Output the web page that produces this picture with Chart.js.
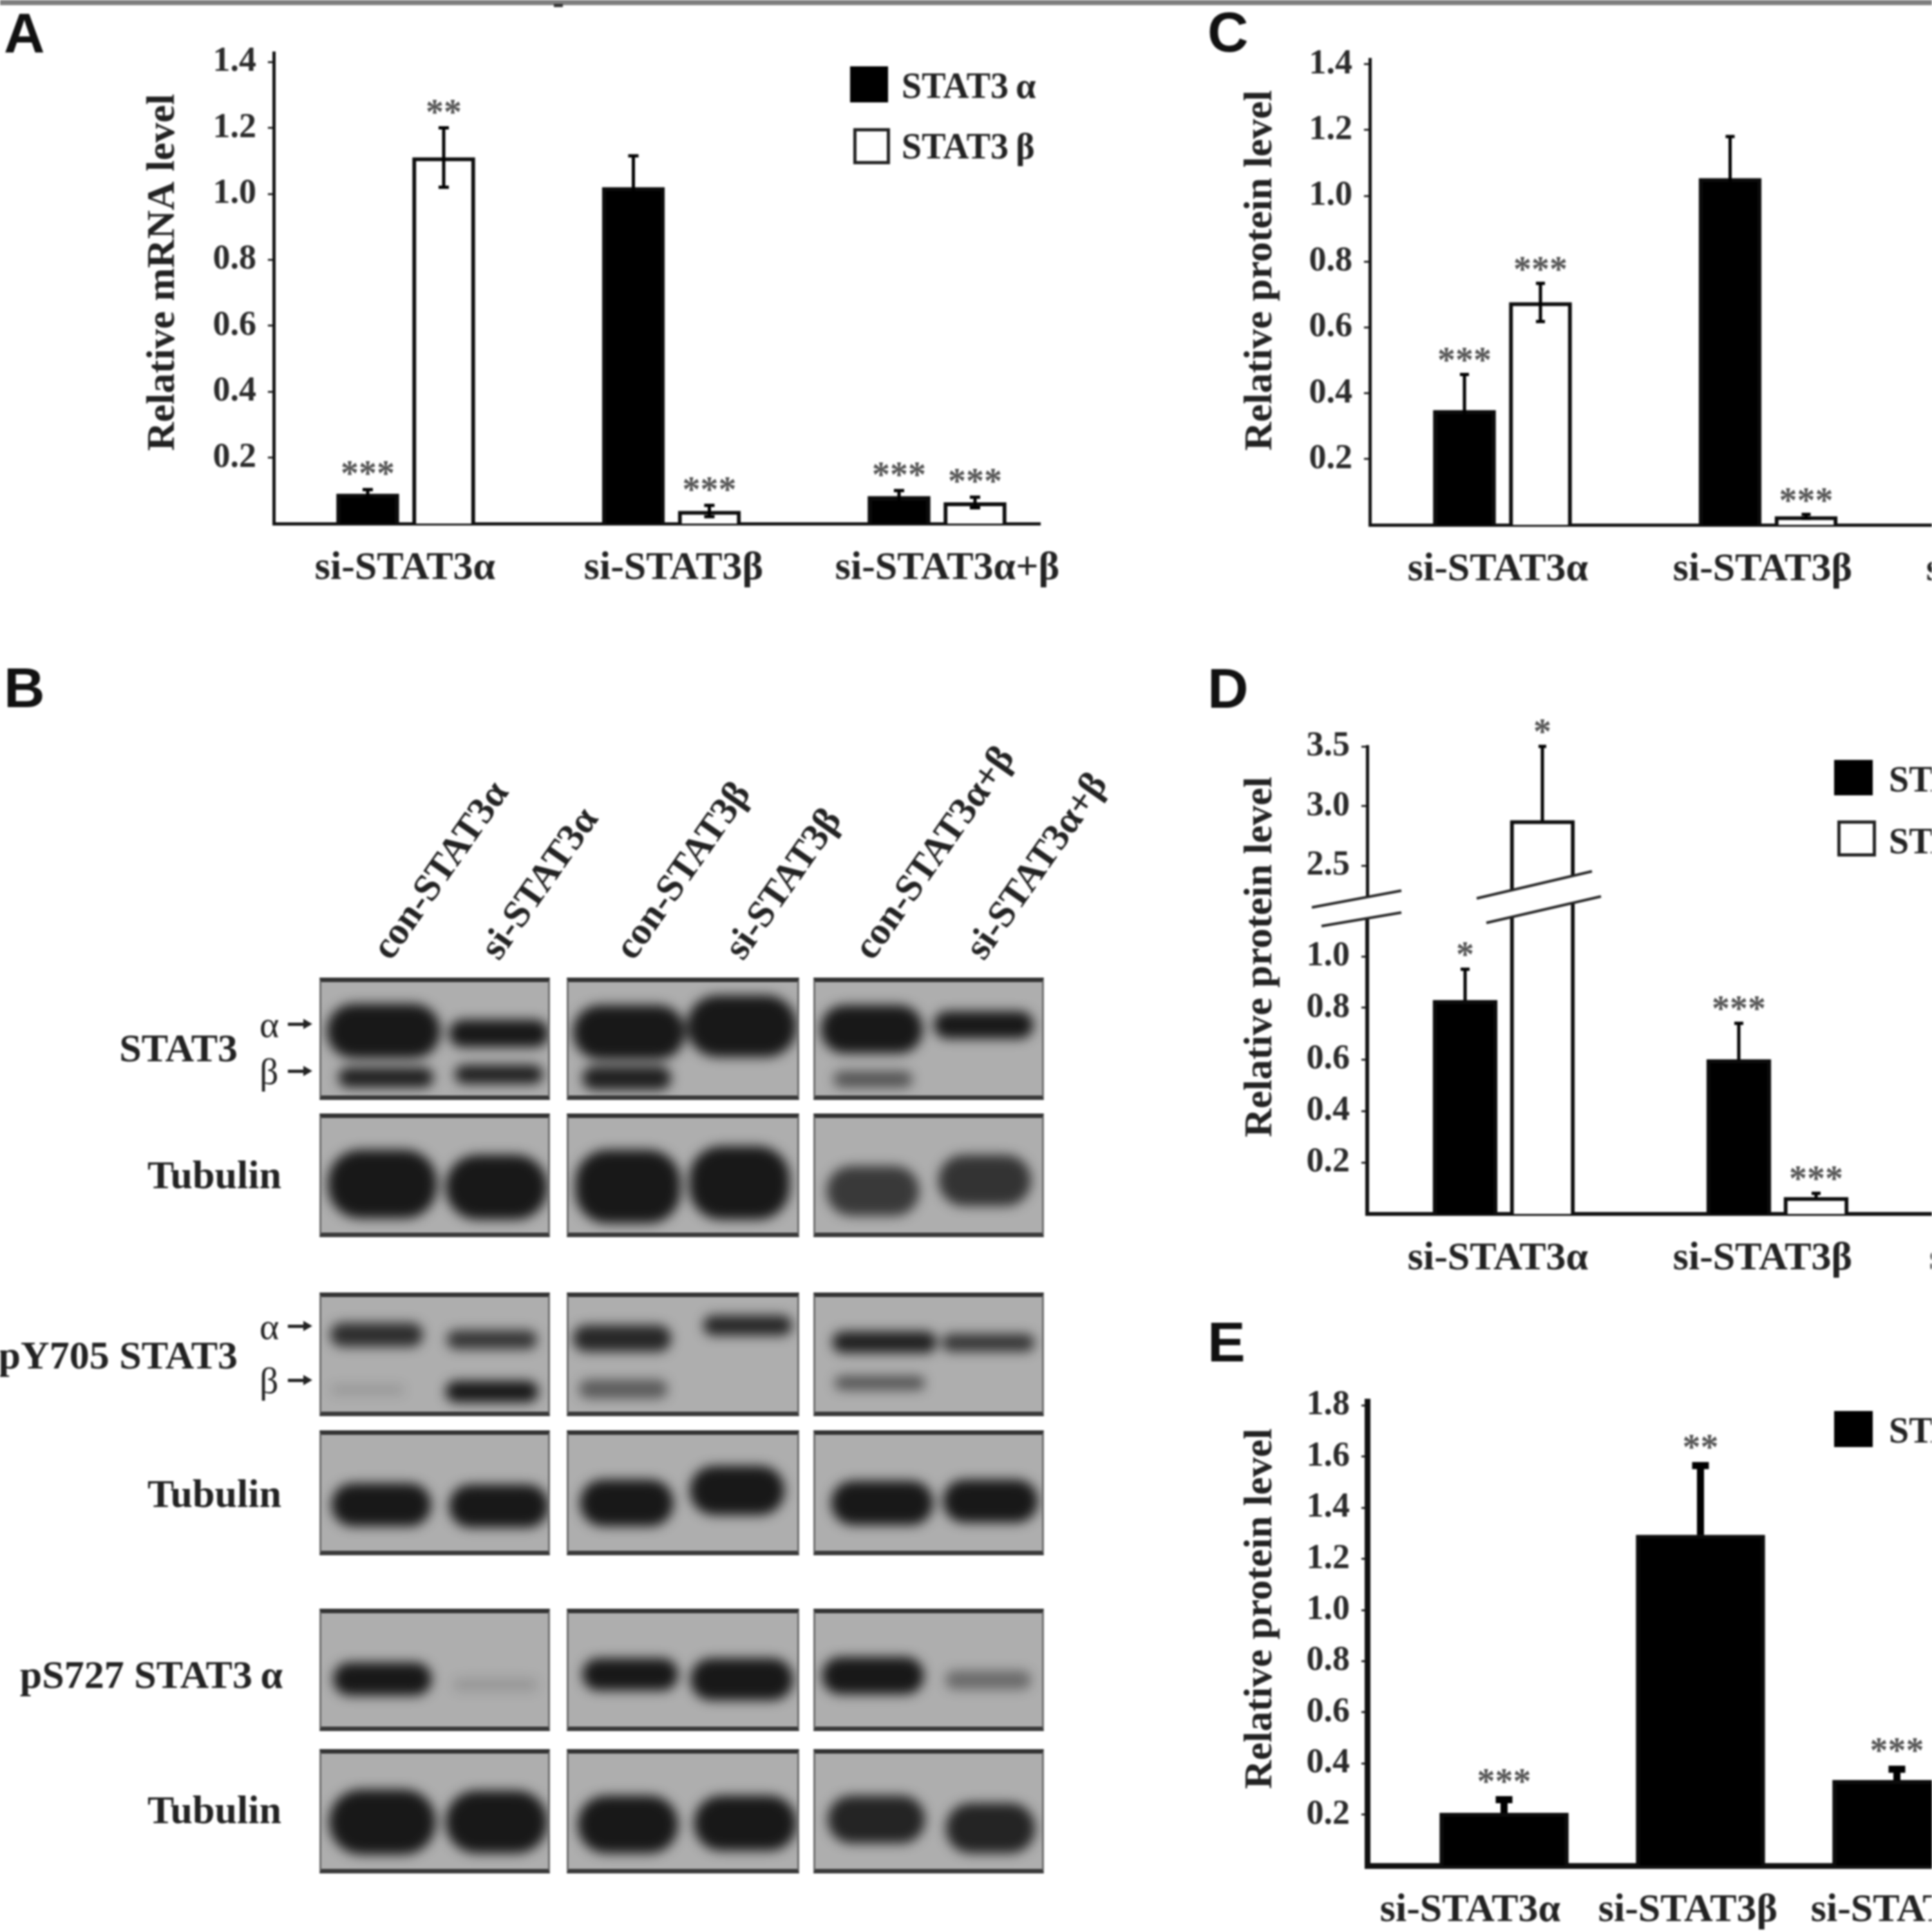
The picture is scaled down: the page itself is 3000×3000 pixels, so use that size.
<!DOCTYPE html>
<html>
<head>
<meta charset="utf-8">
<script src="https://cdn.jsdelivr.net/npm/chart.js@4"></script>
<style>
  html, body { margin: 0; background: #fff; }
  #page { position: relative; width: 3000px; height: 3000px; overflow: hidden; background: #fff; filter: blur(1.8px); }
  #page canvas { position: absolute; }
  .txt { position: absolute; white-space: nowrap; font-family: "Liberation Serif", serif; font-weight: bold; color: #222; line-height: 1; }
  .letter { position: absolute; font-family: "Liberation Sans", sans-serif; font-weight: bold; font-size: 88px; line-height: 1; color: #111; }
  .lane { position: absolute; white-space: nowrap; font-family: "Liberation Serif", serif; font-weight: bold; font-size: 60px; line-height: 1; color: #222; transform-origin: 0 100%; transform: rotate(-55deg); }
  .swatch { position: absolute; box-sizing: border-box; }
  .blot { position: absolute; box-sizing: border-box; overflow: hidden; background: #aeaeae; border: 3px solid #6a6a6a; border-top: 7px solid #333; border-bottom: 7px solid #3a3a3a; }
  .blot canvas { filter: blur(9px); left: 0; top: 0; }
  .arrow { position: absolute; height: 5px; background: #222; }
</style>
</head>
<body>
<div id="page"></div>
<script>
// Bar panel data
const groupsLong = ["si-STAT3α", "si-STAT3β", "si-STAT3α+β"];
const seriesNames = ["STAT3\u2009α", "STAT3\u2009β"];

const aAlpha = [0.09, 1.02, 0.083];
const aAlphaErr = [0.013, 0.095, 0.017];
const aAlphaStars = ["***", "", "***"];
const aBeta = [1.11, 0.038, 0.064];
const aBetaErr = [0.09, 0.017, 0.016];
const aBetaStars = ["**", "***", "***"];

const cAlpha = [0.348, 1.053];
const cAlphaErr = [0.109, 0.127];
const cAlphaStars = ["***", ""];
const cBeta = [0.676, 0.026];
const cBetaErr = [0.058, 0.006];
const cBetaStars = ["***", "***"];

const dAlpha = [0.83, 0.6];
const dAlphaErr = [0.12, 0.14];
const dAlphaStars = ["*", "***"];
const dBeta = [2.88, 0.065];
const dBetaErr = [0.62, 0.015];
const dBetaStars = ["*", "***"];

const eAlpha = [0.206, 1.293, 0.334];
const eAlphaErr = [0.052, 0.272, 0.043];
const eAlphaStars = ["***", "**", "***"];

const ticksSeven = [0.2, 0.4, 0.6, 0.8, 1.0, 1.2, 1.4];
const ticksLowerD = [0.2, 0.4, 0.6, 0.8, 1.0];
const ticksUpperD = [2.5, 3.0, 3.5];
const ticksE = [0.2, 0.4, 0.6, 0.8, 1.0, 1.2, 1.4, 1.6, 1.8];

// Western blot bands: [lane centre, lane width, top, bottom, darkness], as fractions of one blot
const blotStat3 = [
  [[0.27, 0.49, 0.18, 0.62, 1], [0.77, 0.43, 0.31, 0.53, 1], [0.28, 0.41, 0.7, 0.86, 0.95], [0.77, 0.38, 0.68, 0.83, 0.95]],
  [[0.26, 0.48, 0.19, 0.63, 1], [0.745, 0.47, 0.11, 0.61, 1], [0.25, 0.38, 0.69, 0.88, 0.95]],
  [[0.245, 0.44, 0.19, 0.58, 1], [0.73, 0.43, 0.24, 0.46, 1], [0.25, 0.34, 0.73, 0.86, 0.6]],
];
const blotTubulin1 = [
  [[0.265, 0.47, 0.26, 0.81, 1], [0.76, 0.44, 0.3, 0.82, 1]],
  [[0.255, 0.45, 0.26, 0.85, 1], [0.735, 0.43, 0.23, 0.82, 1]],
  [[0.25, 0.4, 0.39, 0.79, 0.78], [0.735, 0.4, 0.3, 0.71, 0.82]],
];
const blotPY705 = [
  [[0.24, 0.4, 0.21, 0.4, 0.85], [0.74, 0.39, 0.27, 0.42, 0.8], [0.74, 0.4, 0.68, 0.85, 1], [0.2, 0.32, 0.71, 0.79, 0.15]],
  [[0.23, 0.42, 0.23, 0.44, 0.9], [0.77, 0.38, 0.15, 0.31, 0.9], [0.235, 0.38, 0.67, 0.82, 0.55]],
  [[0.3, 0.45, 0.28, 0.45, 0.95], [0.75, 0.4, 0.3, 0.44, 0.8], [0.28, 0.39, 0.64, 0.75, 0.6]],
];
const blotTubulin2 = [
  [[0.26, 0.43, 0.39, 0.73, 1], [0.77, 0.43, 0.4, 0.74, 1]],
  [[0.25, 0.4, 0.36, 0.73, 1], [0.725, 0.405, 0.25, 0.64, 1]],
  [[0.29, 0.44, 0.37, 0.72, 1], [0.76, 0.41, 0.36, 0.7, 1]],
];
const blotPS727 = [
  [[0.265, 0.425, 0.405, 0.67, 1], [0.755, 0.37, 0.53, 0.64, 0.14]],
  [[0.265, 0.41, 0.37, 0.63, 1], [0.745, 0.44, 0.37, 0.71, 1]],
  [[0.25, 0.44, 0.36, 0.66, 1], [0.75, 0.37, 0.47, 0.62, 0.45]],
];
const blotTubulin3 = [
  [[0.265, 0.46, 0.29, 0.81, 1], [0.76, 0.44, 0.3, 0.8, 1]],
  [[0.255, 0.43, 0.34, 0.8, 1], [0.76, 0.44, 0.34, 0.78, 1]],
  [[0.265, 0.42, 0.34, 0.72, 0.92], [0.76, 0.385, 0.4, 0.8, 0.92]],
];
const blotRows = [blotStat3, blotTubulin1, blotPY705, blotTubulin2, blotPS727, blotTubulin3];
const laneLabels = ["con-STAT3α", "si-STAT3α", "con-STAT3β", "si-STAT3β", "con-STAT3α+β", "si-STAT3α+β"];

const page = document.getElementById("page");
const SERIF = '"Liberation Serif", serif';

function addText(text, x, y, size, cls) {
  const el = document.createElement("div");
  el.className = cls || "txt";
  el.textContent = text;
  el.style.left = x + "px";
  el.style.top = y + "px";
  if (size) el.style.fontSize = size + "px";
  page.appendChild(el);
  return el;
}

// right aligned label, y is the vertical middle
function addLabelRight(text, right, y, size) {
  const el = addText(text, 0, 0, size);
  el.style.left = "auto";
  el.style.right = 3000 - right + "px";
  el.style.top = y - size / 2 + "px";
}

function addBox(x, y, w, h, css) {
  const el = document.createElement("div");
  el.className = "swatch";
  el.style.cssText += `left:${x}px;top:${y}px;width:${w}px;height:${h}px;${css}`;
  page.appendChild(el);
}

// Error bars and stars are placed from the chart's own scale
const barExtras = {
  id: "barExtras",
  afterDatasetsDraw(chart, args, opts) {
    const ctx = chart.ctx;
    const yScale = chart.scales.y;
    chart.data.datasets.forEach((ds, di) => {
      const meta = chart.getDatasetMeta(di);
      meta.data.forEach((bar, i) => {
        const val = ds.data[i].y;
        if (val > yScale.max || val < yScale.min) return;
        const err = ds.errors[i];
        const top = yScale.getPixelForValue(val + err);
        const low = yScale.getPixelForValue(Math.max(val - err, 0));
        ctx.save();
        ctx.strokeStyle = "#000";
        ctx.lineWidth = opts.errWidth;
        ctx.beginPath();
        ctx.moveTo(bar.x, top);
        ctx.lineTo(bar.x, opts.upperOnly ? bar.y : low);
        ctx.moveTo(bar.x - opts.capWidth / 2, top);
        ctx.lineTo(bar.x + opts.capWidth / 2, top);
        if (!opts.upperOnly) {
          ctx.moveTo(bar.x - opts.capWidth / 2, low);
          ctx.lineTo(bar.x + opts.capWidth / 2, low);
        }
        ctx.stroke();
        if (ds.stars[i]) {
          ctx.fillStyle = "#555";
          ctx.font = "bold 56px " + SERIF;
          ctx.textAlign = "center";
          ctx.textBaseline = "alphabetic";
          ctx.fillText(ds.stars[i], bar.x, top - opts.starGap + 26);
        }
        ctx.restore();
      });
    });
    if (opts.title) {
      ctx.save();
      ctx.translate(opts.titleX - chart.canvas.offsetLeft, opts.titleY - chart.canvas.offsetTop);
      ctx.rotate(-Math.PI / 2);
      ctx.fillStyle = "#222";
      ctx.font = "bold 62px " + SERIF;
      ctx.textAlign = "center";
      ctx.textBaseline = "middle";
      ctx.fillText(opts.title, 0, 0);
      ctx.restore();
    }
  },
};

function drawBarPanel(cfg) {
  const marginLeft = 260, marginTop = 300, marginRight = 100, marginBottom = 110;
  const { left, top, right, bottom } = cfg.plot;
  const canvas = document.createElement("canvas");
  canvas.width = right - left + marginLeft + marginRight;
  canvas.height = bottom - top + marginTop + marginBottom;
  canvas.style.left = left - marginLeft + "px";
  canvas.style.top = top - marginTop + "px";
  page.appendChild(canvas);

  const toUnits = (px) => (px - cfg.origin) / cfg.spacing;
  const labelValues = cfg.labelPx.map(toUnits);

  const datasets = cfg.series.map((s) => ({
    label: s.label,
    data: s.values.map((v, i) => ({ x: i + s.shift / cfg.spacing, y: v })),
    errors: s.errors,
    stars: s.stars,
    backgroundColor: s.fill,
    borderColor: "#0c0c0c",
    borderWidth: 6,
    barThickness: cfg.barWidth,
    grouped: false,
  }));

  new Chart(canvas, {
    type: "bar",
    data: { datasets },
    plugins: [barExtras],
    options: {
      responsive: false,
      animation: false,
      devicePixelRatio: 1,
      layout: { padding: { top: marginTop, right: marginRight, left: 0, bottom: 0 } },
      scales: {
        x: {
          type: "linear",
          offset: false,
          min: toUnits(left),
          max: toUnits(right),
          afterBuildTicks: (scale) => {
            scale.ticks = labelValues.map((value) => ({ value }));
          },
          afterFit: (scale) => {
            scale.height = marginBottom;
          },
          grid: { display: false },
          border: { display: !cfg.noBaseline, color: "#111", width: cfg.axisWidth },
          ticks: {
            display: !cfg.noBaseline,
            autoSkip: false,
            maxRotation: 0,
            padding: 25,
            color: "#222",
            font: { family: SERIF, weight: "bold", size: 62 },
            callback: (value, i) => groupsLong[i],
          },
        },
        y: {
          min: cfg.yMin,
          max: cfg.yMax,
          afterBuildTicks: (scale) => {
            scale.ticks = cfg.yTicks.map((value) => ({ value }));
          },
          afterFit: (scale) => {
            scale.width = marginLeft;
          },
          grid: { drawOnChartArea: false, drawTicks: true, tickLength: 9, tickWidth: 3, color: "#222" },
          border: { color: "#111", width: cfg.axisWidth },
          ticks: {
            autoSkip: false,
            padding: 18,
            color: "#2a2a2a",
            font: { family: SERIF, weight: "bold", size: 54 },
            callback: (value) => value.toFixed(1),
          },
        },
      },
      plugins: {
        legend: { display: false },
        tooltip: { enabled: false },
        barExtras: cfg.extras,
      },
    },
  });
}

function twoSeries(a, aErr, aStars, b, bErr, bStars, shiftA, shiftB) {
  return [
    { label: seriesNames[0], values: a, errors: aErr, stars: aStars, fill: "#000", shift: shiftA },
    { label: seriesNames[1], values: b, errors: bErr, stars: bStars, fill: "#fff", shift: shiftB },
  ];
}

// Panel A
drawBarPanel({
  plot: { left: 425, top: 82, right: 1615, bottom: 813 },
  yMin: 0, yMax: 731 / 512, yTicks: ticksSeven,
  origin: 630, spacing: 412.5, barWidth: 97, axisWidth: 5,
  labelPx: [629, 1046, 1471],
  series: twoSeries(aAlpha, aAlphaErr, aAlphaStars, aBeta, aBetaErr, aBetaStars, -59, 59),
  extras: { errWidth: 5, capWidth: 16, starGap: 32, title: "Relative mRNA level", titleX: 254, titleY: 423 },
});

// Panel C
drawBarPanel({
  plot: { left: 2127, top: 92, right: 3400, bottom: 815 },
  yMin: 0, yMax: 723 / 511, yTicks: ticksSeven,
  origin: 2333, spacing: 412.5, barWidth: 97, axisWidth: 5,
  labelPx: [2326, 2737, 3165],
  series: twoSeries(cAlpha, cAlphaErr, cAlphaStars, cBeta, cBetaErr, cBetaStars, -59, 59),
  extras: { errWidth: 5, capWidth: 14, starGap: 29, title: "Relative protein level", titleX: 1958, titleY: 420 },
});

// Panel D is two charts sharing one data set, the upper one above the axis break
const dSeries = twoSeries(dAlpha, dAlphaErr, dAlphaStars, dBeta, dBetaErr, dBetaStars, -60, 60);
drawBarPanel({
  plot: { left: 2123, top: 1159, right: 3400, bottom: 1400 },
  yMin: 2.2, yMax: 3.5, yTicks: ticksUpperD,
  origin: 2335, spacing: 425, barWidth: 100, axisWidth: 5, noBaseline: true,
  labelPx: [],
  series: dSeries,
  extras: { errWidth: 5, capWidth: 12, starGap: 30, upperOnly: true },
});
drawBarPanel({
  plot: { left: 2123, top: 1400, right: 3400, bottom: 1885 },
  yMin: 0, yMax: 485 / 400, yTicks: ticksLowerD,
  origin: 2335, spacing: 425, barWidth: 100, axisWidth: 6,
  labelPx: [2326, 2737, 3170],
  series: dSeries,
  extras: { errWidth: 5, capWidth: 14, starGap: 30, upperOnly: true, title: "Relative protein level", titleX: 1958, titleY: 1486 },
});

// Panel E
drawBarPanel({
  plot: { left: 2123, top: 2176, right: 3400, bottom: 2897 },
  yMin: 0, yMax: 721 / 397, yTicks: ticksE,
  origin: 2335.5, spacing: 305, barWidth: 200, axisWidth: 9,
  labelPx: [2283, 2621, 2986],
  series: [{ label: seriesNames[0], values: eAlpha, errors: eAlphaErr, stars: eAlphaStars, fill: "#000", shift: 0 }],
  extras: { errWidth: 11, capWidth: 26, starGap: 36, upperOnly: true, title: "Relative protein level", titleX: 1958, titleY: 2498 },
});

// Axis break of panel D, drawn over both charts
const svgNS = "http://www.w3.org/2000/svg";
const breakSvg = document.createElementNS(svgNS, "svg");
breakSvg.setAttribute("width", 3000);
breakSvg.setAttribute("height", 3000);
breakSvg.style.cssText = "position:absolute;left:0;top:0";
breakSvg.innerHTML = `
  <polygon points="2037,1409 2176,1383 2176,1417 2052,1438" fill="#fff"/>
  <polygon points="2293,1395 2472,1353 2486,1392 2308,1433" fill="#fff"/>
  <g stroke="#222" stroke-width="4">
    <line x1="2037" y1="1409" x2="2176" y2="1383"/><line x1="2052" y1="1438" x2="2176" y2="1417"/>
    <line x1="2293" y1="1395" x2="2472" y2="1353"/><line x1="2308" y1="1433" x2="2486" y2="1392"/>
  </g>`;
page.appendChild(breakSvg);

// Panel B, one small chart for every blot, the bands are floating bars
function drawBlot(bands, x, y, w, h) {
  const box = document.createElement("div");
  box.className = "blot";
  box.style.cssText = `left:${x}px;top:${y}px;width:${w}px;height:${h}px`;
  page.appendChild(box);
  const canvas = document.createElement("canvas");
  canvas.width = w;
  canvas.height = h;
  box.appendChild(canvas);
  new Chart(canvas, {
    type: "bar",
    data: {
      datasets: bands.map((b) => ({
        data: [{ x: b[0], y: [b[2], b[3]] }],
        barThickness: b[1] * w,
        backgroundColor: `rgba(24,24,24,${b[4]})`,
        borderRadius: 50,
        borderSkipped: false,
        grouped: false,
      })),
    },
    options: {
      responsive: false,
      animation: false,
      devicePixelRatio: 1,
      scales: {
        x: { type: "linear", offset: false, min: 0, max: 1, display: false },
        y: { min: 0, max: 1, reverse: true, display: false },
      },
      plugins: { legend: { display: false }, tooltip: { enabled: false } },
    },
  });
}

const blotX = [496, 880, 1263];
const blotW = [358, 361, 358];
const blotY = [1518, 1729, 2007, 2221, 2498, 2716];
const blotH = [190, 192, 192, 194, 190, 193];
blotRows.forEach((row, r) => {
  row.forEach((bands, c) => drawBlot(bands, blotX[c], blotY[r], blotW[c], blotH[r]));
});

// Panel B text
const laneStartX = [615, 783, 992, 1162, 1363, 1536];
laneLabels.forEach((text, i) => {
  addText(text, laneStartX[i], 1439, 0, "lane");
});
addLabelRight("STAT3", 369, 1627, 62);
addLabelRight("Tubulin", 437, 1824, 62);
addLabelRight("pY705 STAT3", 369, 2104, 62);
addLabelRight("Tubulin", 437, 2319, 62);
addLabelRight("pS727 STAT3\u2009α", 439, 2600, 62);
addLabelRight("Tubulin", 437, 2810, 62);
[[1591, "α"], [1664, "β"], [2060, "α"], [2144, "β"]].forEach(([y, t]) => {
  addText(t, 403, y - 29, 58).style.fontWeight = "normal";
  const a = document.createElement("div");
  a.className = "arrow";
  a.style.cssText = `left:447px;top:${y - 3}px;width:26px`;
  page.appendChild(a);
  addBox(471, y - 9, 0, 0, "border-left:14px solid #222;border-top:8px solid transparent;border-bottom:8px solid transparent");
});

// Panel letters and the strip along the top
addBox(0, 0, 3000, 8, "background:#7e7e7e");
addBox(860, 6, 14, 5, "background:#333");
[["A", 6, 7], ["B", 6, 1024], ["C", 1875, 6], ["D", 1875, 1025], ["E", 1875, 2040]].forEach(([t, x, y]) => {
  addText(t, x, y, 0, "letter");
});

// Legends
addBox(1320, 103, 59, 56, "background:#000");
addBox(1325, 199, 57, 56, "background:#fff;border:5px solid #222");
addText(seriesNames[0], 1400, 105, 56);
addText(seriesNames[1], 1400, 199, 56);
addBox(2848, 1180, 60, 55, "background:#000");
addBox(2853, 1274, 60, 56, "background:#fff;border:5px solid #222");
addText(seriesNames[0], 2933, 1182, 56);
addText(seriesNames[1], 2933, 1278, 56);
addBox(2848, 2191, 60, 56, "background:#000");
addText(seriesNames[0], 2933, 2193, 56);
</script>
</body>
</html>
